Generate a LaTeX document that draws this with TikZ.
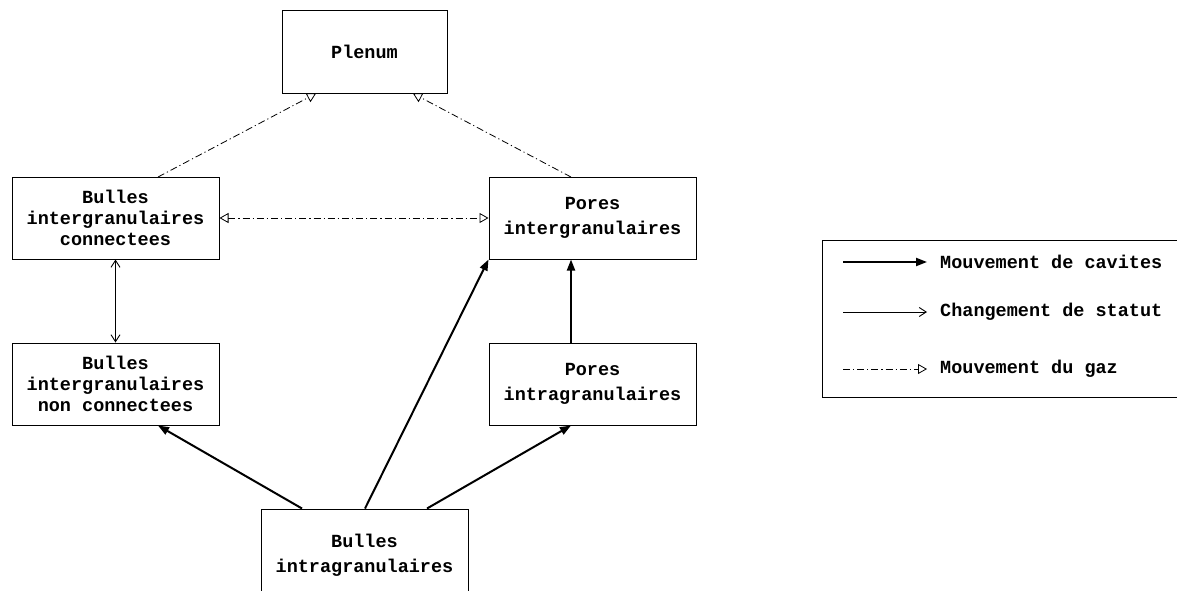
\documentclass[tikz,border=0pt]{standalone}
\usepackage{fontspec}
\setmainfont{Liberation Mono}
\usetikzlibrary{arrows.meta}
\begin{document}
\begin{tikzpicture}[x=1pt,y=-1pt,
  box/.style={draw,line width=1pt,minimum width=207pt,minimum height=82pt,align=center,
    font=\fontsize{18.5}{21}\selectfont\bfseries,inner sep=0pt},
  box2/.style={box,font=\fontsize{18.5}{25.5}\selectfont\bfseries},
  lbl/.style={anchor=west,font=\fontsize{18.5}{21}\selectfont\bfseries,inner sep=0pt},
  cav/.style={line width=2pt,-{Triangle[length=11pt,width=8pt]}},
  stat/.style={line width=1pt,-{Straight Barb[length=7pt,width=9pt,line width=0.9pt]}},
  statb/.style={line width=1pt,{Straight Barb[length=7pt,width=9pt,line width=0.9pt]}-{Straight Barb[length=7pt,width=9pt,line width=0.9pt]}},
  gaz/.style={line width=0.8pt,dash pattern=on 7pt off 3pt on 1.2pt off 3pt,-{Triangle[open,length=9pt,width=10pt,line width=0.8pt]}},
  gazb/.style={line width=0.8pt,dash pattern=on 7pt off 3pt on 1.2pt off 3pt,{Triangle[open,length=9pt,width=10pt,line width=0.8pt]}-{Triangle[open,length=9pt,width=10pt,line width=0.8pt]}}]
\clip (0,0) rectangle (1177,590);
\fill[white] (0,0) rectangle (1177,590);
\node[box,minimum width=165pt,minimum height=83pt] (plenum) at (364.5,51.5) {Plenum};
\node[box] (bc) at (115.5,218) {Bulles\\intergranulaires\\connectees};
\node[box2] (pi) at (592.5,218) {Pores\\intergranulaires};
\node[box] (bnc) at (115.5,384) {Bulles\\intergranulaires\\non connectees};
\node[box2] (pia) at (592.5,384) {Pores\\intragranulaires};
\node[box2,minimum height=92pt] (bia) at (364.5,555) {Bulles\\intragranulaires};
% gas
\draw[gaz] (158,177) -- (plenum.south west -| 316,0);
\draw[gaz] (571,177) -- (plenum.south west -| 413,0);
\draw[gazb] (bc.east) -- (pi.west);
% status
\draw[statb] (bc.south) -- (bnc.north);
% cavities
\draw[cav] (bia.north west -| 302,0) -- (bnc.south -| 158,0);
\draw[cav] (bia.north west -| 365,0) -- (pi.south west);
\draw[cav] (bia.north west -| 427,0) -- (pia.south -| 571,0);
\draw[cav] (pia.north -| 571,0) -- (pi.south -| 571,0);
% legend
\draw[line width=1pt] (1190,240) -- (822,240) -- (822,397) -- (1190,397);
\coordinate (l1a) at (843,262); \coordinate (l1b) at (927,262);
\coordinate (l2a) at (843,312); \coordinate (l2b) at (927,312);
\coordinate (l3a) at (843,369); \coordinate (l3b) at (927,369);
\draw[cav] (l1a) -- (l1b);
\draw[stat] (l2a) -- (l2b);
\draw[gaz] (l3a) -- (l3b);
\node[lbl] (t1) at (940,262) {Mouvement de cavites};
\node[lbl] (t2) at (940,312) {Changement de statut};
\node[lbl] (t3) at (940,369) {Mouvement du gaz};
\end{tikzpicture}
\end{document}
